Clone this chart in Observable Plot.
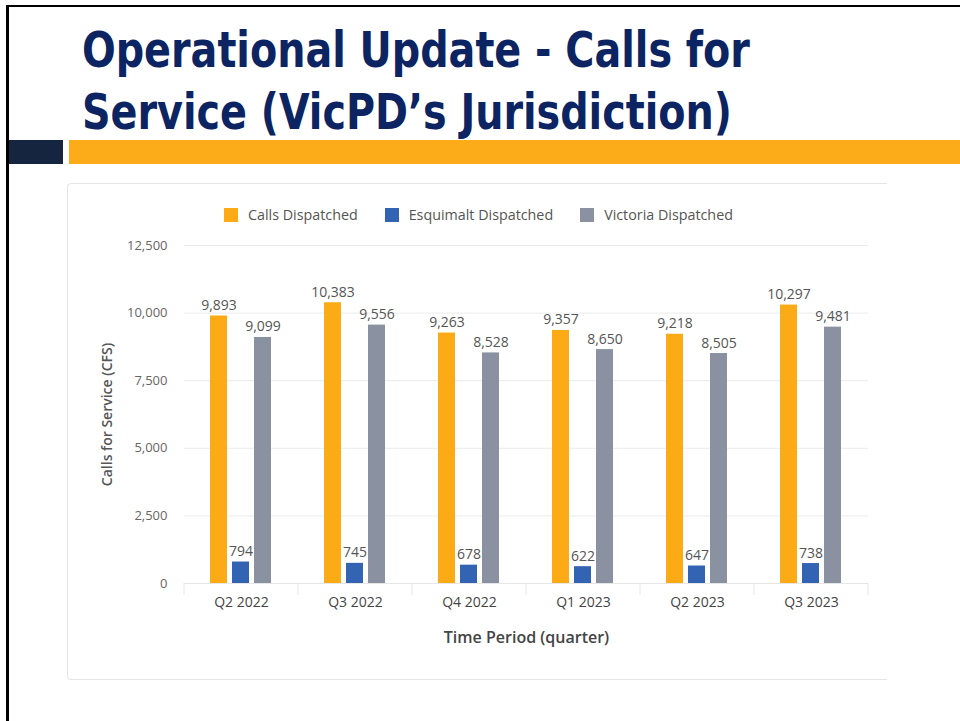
<!DOCTYPE html>
<html><head><meta charset="utf-8">
<script src="https://cdn.jsdelivr.net/npm/d3@7"></script>
<script src="https://cdn.jsdelivr.net/npm/@observablehq/plot@0.6"></script>
<style>
body{margin:0;background:#fff;width:960px;height:721px;overflow:hidden;position:relative;font-family:"Open Sans","Segoe UI",sans-serif}
#frameTop{position:absolute;left:6px;top:5px;width:954px;height:2px;background:#000}
#frameLeft{position:absolute;left:6px;top:5px;width:3px;height:716px;background:#000}
#title{position:absolute;left:82px;top:20px;margin:0;font-family:"Liberation Sans Narrow","DejaVu Sans Condensed",sans-serif;font-weight:bold;font-size:49px;line-height:62px;color:#0c2461;white-space:nowrap;transform:scaleX(0.9);transform-origin:0 0}
#barDark{position:absolute;left:9px;top:140px;width:54px;height:24px;background:#15253f}
#barOrange{position:absolute;left:69px;top:140px;width:891px;height:24px;background:#fbac18}
#panel{position:absolute;left:67px;top:183px;width:820px;height:497px;border:1px solid #e4e6ea;border-right:none;border-radius:4px 0 0 4px;box-sizing:border-box}
#legend{position:absolute;left:224px;top:198px}
#legend .lg-swatch{margin-right:27px;color:#555}
#legend .lg-swatch > svg{margin-right:10px}
#chart{position:absolute;left:68px;top:230px}
</style></head>
<body>
<div id="frameTop"></div><div id="frameLeft"></div>
<div id="title">Operational Update - Calls for<br>Service (VicPD’s Jurisdiction)</div>
<div id="barDark"></div><div id="barOrange"></div>
<div id="panel"></div>
<div id="legend"></div>
<div id="chart"></div>
<script>
const quarters = ["Q2 2022","Q3 2022","Q4 2022","Q1 2023","Q2 2023","Q3 2023"];
const seriesNames = ["Calls Dispatched","Esquimalt Dispatched","Victoria Dispatched"];
const callsDispatched = [9893,10383,9263,9357,9218,10297];
const esquimaltDispatched = [794,745,678,622,647,738];
const victoriaDispatched = [9099,9556,8528,8650,8505,9481];
const yTicks = [0,2500,5000,7500,10000,12500];
const colors = ["#fcab17","#3364b4","#8a91a1"];

const seriesValues = [callsDispatched, esquimaltDispatched, victoriaDispatched];
const data = quarters.flatMap((q,i)=>seriesNames.map((s,j)=>({quarter:q, series:s, value:seriesValues[j][i]})));
const fmt = d3.format(",");
const font = '"Open Sans","Segoe UI",sans-serif';

const plot = Plot.plot({
  width: 819, height: 440,
  marginLeft: 115, marginRight: 18, marginTop: 15, marginBottom: 87,
  style: {fontFamily: font, fontSize: "13px", color: "#555", background: "transparent", overflow: "visible"},
  fx: {domain: quarters, padding: 0, label: null},
  x: {domain: seriesNames, paddingInner: 0.22, paddingOuter: 1.09, axis: null},
  y: {domain: [0, 12500], label: null},
  color: {domain: seriesNames, range: colors},
  marks: [
    Plot.gridY(yTicks, {stroke: "#ebebeb", strokeOpacity: 1}),
    Plot.axisY(yTicks, {tickSize: 0, tickPadding: 17, tickFormat: fmt, fontSize: 13, fill: "#666",
      label: "Calls for Service (CFS)", labelAnchor: "center", labelOffset: 82, labelArrow: "none"}),
    Plot.axisFx({anchor: "bottom", tickSize: 0, tickPadding: 14, fontSize: 14, fill: "#444",
      label: "Time Period (quarter)", labelAnchor: "center", labelOffset: 59, labelArrow: "none"}),
    Plot.ruleY([0], {stroke: "#e6e6e6"}),
    Plot.barY(data, {fx: "quarter", x: "series", y: "value", fill: "series"}),
    Plot.text(data, {fx: "quarter", x: "series", y: "value", text: d => fmt(d.value), dy: -6, lineAnchor: "bottom", fontSize: 14, fill: "#555"})
  ]
});
document.getElementById("chart").appendChild(plot);

// band-edge ticks on the quarter axis
const fxs = plot.scale("fx"), ys = plot.scale("y");
const edges = quarters.map(q => fxs.apply(q)).concat([fxs.apply(quarters[quarters.length-1]) + fxs.bandwidth]);
const y0 = ys.apply(0);
d3.select(plot).append("g").selectAll("line").data(edges).join("line")
  .attr("x1", d => d).attr("x2", d => d).attr("y1", y0).attr("y2", y0 + 12)
  .attr("stroke", "#e6e6e6");

// axis label styling
d3.select(plot).selectAll('g[aria-label="y-axis label"] text').attr("font-weight", 600).attr("fill", "#555").attr("font-size", 14);
d3.select(plot).selectAll('g[aria-label="fx-axis label"] text').attr("font-weight", 600).attr("fill", "#444").attr("font-size", 16);

const legend = plot.legend("color", {className: "lg", swatchSize: 14, style: {fontFamily: font, fontSize: "14.3px", color: "#555"}});
document.getElementById("legend").appendChild(legend);
</script>
</body></html>
